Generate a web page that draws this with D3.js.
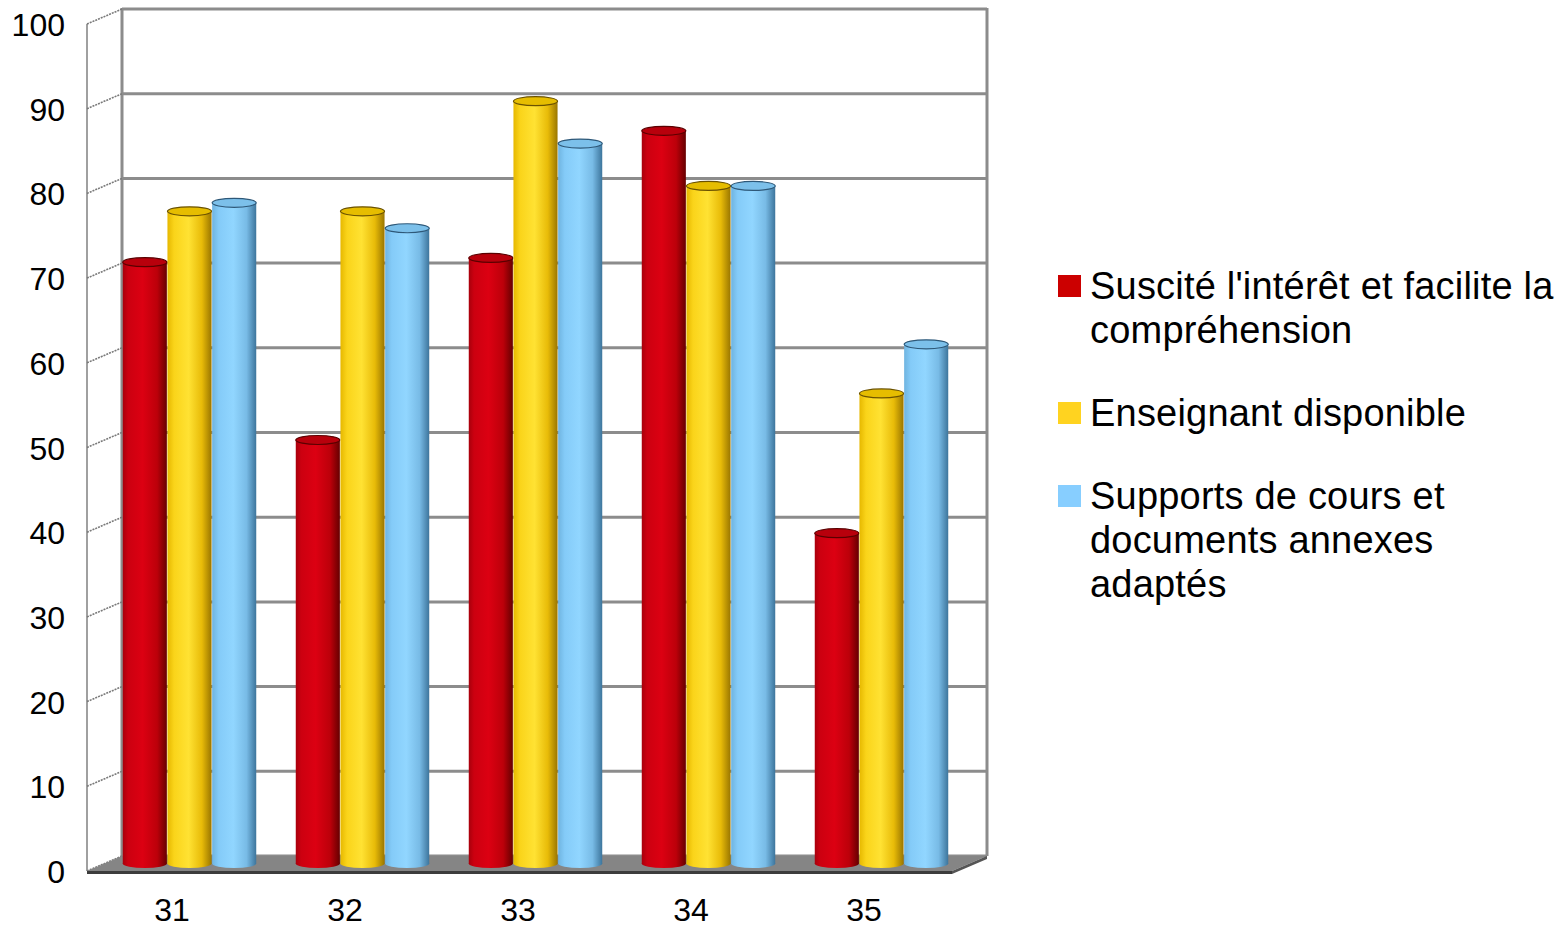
<!DOCTYPE html>
<html>
<head>
<meta charset="utf-8">
<script src="https://cdn.jsdelivr.net/npm/d3@7"></script>
<style>
  html, body { margin: 0; padding: 0; background: #ffffff; }
  svg { display: block; font-family: "Liberation Sans", Arial, sans-serif; }
</style>
</head>
<body>
<svg id="chart" width="1557" height="927"></svg>
<script>
// ---- data ----
const categories = ["31", "32", "33", "34", "35"];
const seriesNames = [
  ["Suscité l'intérêt et facilite la", "compréhension"],
  ["Enseignant disponible"],
  ["Supports de cours et", "documents annexes", "adaptés"]
];
const seriesInteret = [71, 50, 71.5, 86.5, 39];
const seriesEnseignant = [77, 77, 90, 80, 55.5];
const seriesSupports = [78, 75, 85, 80, 61.3];
const yTicks = [0, 10, 20, 30, 40, 50, 60, 70, 80, 90, 100];

const seriesValues = [seriesInteret, seriesEnseignant, seriesSupports];
const seriesKeys = ["s0", "s1", "s2"];

// ---- styling ----
const swatch = ["#CC0000", "#FFD320", "#87CEFF"];
const bodyStops = [
  [["0%", "#a8000c"], ["12%", "#cc0010"], ["45%", "#dc0012"], ["78%", "#bc000a"], ["100%", "#660000"]],
  [["0%", "#e6b800"], ["15%", "#fad41a"], ["48%", "#ffe233"], ["78%", "#e8bb08"], ["100%", "#9a7600"]],
  [["0%", "#6fb4e0"], ["15%", "#84cbf8"], ["48%", "#91d6ff"], ["78%", "#78bbe6"], ["100%", "#3d759c"]]
];
const topFill = ["#b8000c", "#e6bd00", "#7cc0ea"];
const topStroke = ["#5a0000", "#6b5200", "#2e5878"];

const svg = d3.select("#chart");
const defs = svg.append("defs");
bodyStops.forEach((stops, i) => {
  const g = defs.append("linearGradient").attr("id", "grad" + i)
    .attr("x1", "0%").attr("x2", "100%").attr("y1", "0%").attr("y2", "0%");
  stops.forEach(s => g.append("stop").attr("offset", s[0]).attr("stop-color", s[1]));
});

// ---- geometry ----
const frontLeft = 87, frontRight = 952;
const depthX = 35, depthY = -15;
const yFront = d3.scaleLinear().domain([0, 100]).range([871, 24]);
const yBack = v => yFront(v) + depthY;
const yBar = v => yFront(v) + depthY / 2;
const xBand = d3.scaleBand().domain(categories).range([85.5, 950.5]).padding(0);
const groupW = xBand.bandwidth() * 0.775;
const xSeries = d3.scaleBand().domain(seriesKeys).range([0, groupW]).padding(0);

const gridColor = "#8c8c8c";

// back wall gridlines
svg.append("g").selectAll("line").data(yTicks).join("line")
  .attr("x1", frontLeft + depthX).attr("x2", frontRight + depthX)
  .attr("y1", d => yBack(d)).attr("y2", d => yBack(d))
  .attr("stroke", gridColor).attr("stroke-width", 3);

// back wall left and right edges
svg.append("line").attr("x1", frontLeft + depthX).attr("x2", frontLeft + depthX)
  .attr("y1", yBack(100) - 1).attr("y2", yBack(0))
  .attr("stroke", gridColor).attr("stroke-width", 3);
svg.append("line").attr("x1", frontRight + depthX).attr("x2", frontRight + depthX)
  .attr("y1", yBack(100) - 1).attr("y2", yBack(0))
  .attr("stroke", gridColor).attr("stroke-width", 3);

// left side wall: front edge and diagonal tick lines
svg.append("line").attr("x1", frontLeft).attr("x2", frontLeft)
  .attr("y1", yFront(100)).attr("y2", yFront(0))
  .attr("stroke", "#a0a0a0").attr("stroke-width", 2);
svg.append("g").selectAll("line").data(yTicks).join("line")
  .attr("x1", frontLeft).attr("x2", frontLeft + depthX)
  .attr("y1", d => yFront(d)).attr("y2", d => yBack(d))
  .attr("stroke", "#7a7a7a").attr("stroke-width", 1.6).attr("stroke-dasharray", "2,1");

// floor
const floorPts = [
  [frontLeft, yFront(0)], [frontRight, yFront(0)],
  [frontRight + depthX, yBack(0)], [frontLeft + depthX, yBack(0)]
];
svg.append("polygon").attr("points", floorPts.map(p => p.join(",")).join(" "))
  .attr("fill", "#858585");
// floor front thickness
svg.append("polygon").attr("points", [
  [frontLeft, yFront(0)], [frontRight, yFront(0)], [frontRight, yFront(0) + 3], [frontLeft, yFront(0) + 3]
].map(p => p.join(",")).join(" ")).attr("fill", "#3c3c3c");
svg.append("polygon").attr("points", [
  [frontRight, yFront(0)], [frontRight + depthX, yBack(0)], [frontRight + depthX, yBack(0) + 3], [frontRight, yFront(0) + 3]
].map(p => p.join(",")).join(" ")).attr("fill", "#555555");

// ---- bars (cylinders) ----
const ry = 4.5;
const barsG = svg.append("g");
categories.forEach((cat, ci) => {
  seriesValues.forEach((vals, si) => {
    const v = vals[ci];
    const x0 = xBand(cat) + (xBand.bandwidth() - groupW) / 2 + depthX / 2 + xSeries(seriesKeys[si]);
    const w = xSeries.bandwidth();
    const cx = x0 + w / 2;
    const rx = w / 2 - 0.3;
    const yb = yBar(0), yt = yBar(v);
    const g = barsG.append("g");
    g.append("ellipse").attr("cx", cx).attr("cy", yb).attr("rx", rx).attr("ry", ry)
      .attr("fill", "url(#grad" + si + ")");
    g.append("rect").attr("x", cx - rx).attr("y", yt).attr("width", rx * 2).attr("height", yb - yt)
      .attr("fill", "url(#grad" + si + ")");
    g.append("ellipse").attr("cx", cx).attr("cy", yt).attr("rx", rx).attr("ry", ry)
      .attr("fill", topFill[si]).attr("stroke", topStroke[si]).attr("stroke-width", 1.2);
  });
});

// ---- axes labels ----
svg.append("g").selectAll("text").data(yTicks).join("text")
  .attr("x", 65).attr("y", d => yFront(d) + 1)
  .attr("text-anchor", "end").attr("dominant-baseline", "central")
  .attr("font-size", 32).attr("fill", "#000")
  .text(d => d);

svg.append("g").selectAll("text").data(categories).join("text")
  .attr("x", d => xBand(d) + xBand.bandwidth() / 2).attr("y", 921)
  .attr("text-anchor", "middle")
  .attr("font-size", 32).attr("fill", "#000")
  .text(d => d);

// ---- legend ----
const legendTop = [275, 402, 485];
const lineH = 44;
const leg = svg.append("g");
seriesNames.forEach((lines, i) => {
  leg.append("rect").attr("x", 1058).attr("y", legendTop[i]).attr("width", 23).attr("height", 22)
    .attr("fill", swatch[i]);
  const t = leg.append("text").attr("x", 1090).attr("y", legendTop[i] + 24)
    .attr("font-size", 38).attr("letter-spacing", 0.2).attr("fill", "#000");
  lines.forEach((ln, j) => {
    t.append("tspan").attr("x", 1090).attr("dy", j === 0 ? 0 : lineH).text(ln);
  });
});
</script>
</body>
</html>
